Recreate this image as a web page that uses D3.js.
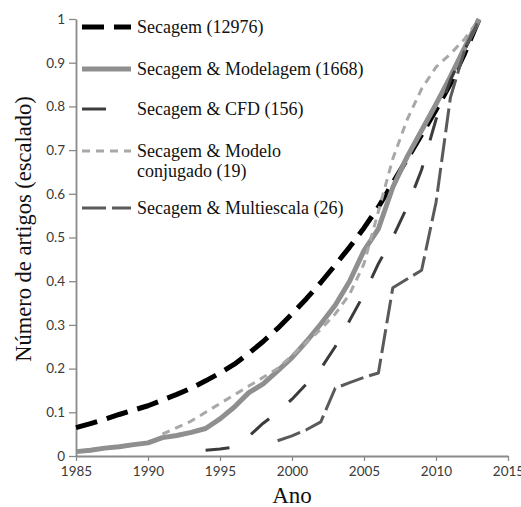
<!DOCTYPE html>
<html>
<head>
<meta charset="utf-8">
<script src="https://cdn.jsdelivr.net/npm/d3@7"></script>
<style>
  html, body { margin: 0; padding: 0; background: #fff; }
  svg { display: block; }
  .serif { font-family: "Liberation Serif", "DejaVu Serif", serif; }
  .sansnum { font-family: Lato, "Open Sans", sans-serif; }
</style>
</head>
<body>
<svg id="chart" width="521" height="507"></svg>
<script>
// ---- data ----
const secagemYears = d3.range(1985, 2014);
const secagemValues = [0.065, 0.074, 0.084, 0.095, 0.105, 0.115, 0.128, 0.141, 0.155, 0.172, 0.19, 0.21, 0.235, 0.262, 0.292, 0.325, 0.36, 0.397, 0.437, 0.478, 0.522, 0.57, 0.625, 0.68, 0.735, 0.792, 0.852, 0.922, 1.0];

const modelagemYears = d3.range(1985, 2014);
const modelagemValues = [0.01, 0.013, 0.018, 0.021, 0.026, 0.03, 0.042, 0.047, 0.054, 0.063, 0.085, 0.112, 0.145, 0.165, 0.195, 0.225, 0.262, 0.302, 0.345, 0.4, 0.47, 0.52, 0.615, 0.685, 0.745, 0.805, 0.868, 0.935, 1.0];

const cfdYears = d3.range(1994, 2014);
const cfdValues = [0.013, 0.016, 0.02, 0.045, 0.075, 0.1, 0.13, 0.165, 0.2, 0.25, 0.31, 0.37, 0.44, 0.5, 0.57, 0.655, 0.77, 0.86, 0.93, 1.0];

const conjugadoYears = d3.range(1991, 2014);
const conjugadoValues = [0.05, 0.065, 0.08, 0.1, 0.12, 0.14, 0.16, 0.18, 0.2, 0.23, 0.26, 0.29, 0.325, 0.37, 0.44, 0.56, 0.68, 0.77, 0.84, 0.89, 0.92, 0.955, 1.0];

const multiescalaYears = d3.range(1999, 2014);
const multiescalaValues = [0.035, 0.046, 0.06, 0.078, 0.155, 0.168, 0.18, 0.19, 0.385, 0.405, 0.425, 0.58, 0.82, 0.93, 1.0];

const seriesNames = ["Secagem (12976)", "Secagem & Modelagem (1668)", "Secagem & CFD (156)", "Secagem & Modelo\nconjugado (19)", "Secagem & Multiescala (26)"];

const xTicks = [1985, 1990, 1995, 2000, 2005, 2010, 2015];
const yTicks = [0, 0.1, 0.2, 0.3, 0.4, 0.5, 0.6, 0.7, 0.8, 0.9, 1];
const xTitle = "Ano";
const yTitle = "Número de artigos (escalado)";

// ---- styles ----
const styles = [
  { color: "#000000", width: 5, dash: "22,10" },
  { color: "#8f8f8f", width: 5, dash: null },
  { color: "#3c3c3c", width: 3, dash: "24,26" },
  { color: "#a8a8a8", width: 3, dash: "8,6" },
  { color: "#5a5a5a", width: 3, dash: "24,6" }
];

const series = [
  { years: secagemYears, values: secagemValues },
  { years: modelagemYears, values: modelagemValues },
  { years: cfdYears, values: cfdValues },
  { years: conjugadoYears, values: conjugadoValues },
  { years: multiescalaYears, values: multiescalaValues }
].map((s, i) => ({ name: seriesNames[i], style: styles[i], points: s.years.map((yr, j) => ({ x: yr, y: s.values[j] })) }));

const svg = d3.select("#chart");
const mLeft = 76, mRight = 508, mTop = 19, mBottom = 456;

const x = d3.scaleLinear().domain([1985, 2015]).range([mLeft, mRight]);
const y = d3.scaleLinear().domain([0, 1]).range([mBottom, mTop]);

// axes
const xAxis = svg.append("g").attr("transform", `translate(0,${mBottom})`)
  .call(d3.axisBottom(x).tickValues(xTicks).tickFormat(d3.format("d")).tickSize(5).tickSizeOuter(0));
const yAxis = svg.append("g").attr("transform", `translate(${mLeft},0)`)
  .call(d3.axisLeft(y).tickValues(yTicks).tickFormat(d => d === 0 ? "0" : d === 1 ? "1" : d.toFixed(1)).tickSize(7).tickSizeOuter(0));

[xAxis, yAxis].forEach(g => {
  g.attr("font-family", null).attr("font-size", null);
  g.select(".domain").attr("stroke", "#8a8a8a").attr("stroke-width", 1.8);
  g.selectAll(".tick line").attr("stroke", "#8a8a8a").attr("stroke-width", 1.3);
  g.selectAll(".tick text").attr("class", "sansnum").attr("fill", "#3a3a3a").style("font-size", "13.5px");
});
xAxis.selectAll(".tick text").attr("dy", "1.05em").attr("y", 6);
yAxis.selectAll(".tick text").attr("x", -11).attr("dy", "0.32em");

// lines
const line = d3.line().x(d => x(d.x)).y(d => y(d.y));
svg.append("g").selectAll("path").data(series).join("path")
  .attr("d", d => line(d.points))
  .attr("fill", "none")
  .attr("stroke", d => d.style.color)
  .attr("stroke-width", d => d.style.width)
  .attr("stroke-dasharray", d => d.style.dash)
  .attr("stroke-linejoin", "round");

// legend
const legendRows = [27, 69, 109, 151, 208];
const leg = svg.append("g");
series.forEach((s, i) => {
  const ly = legendRows[i];
  leg.append("line").attr("x1", 82).attr("x2", 131).attr("y1", ly).attr("y2", ly)
    .attr("stroke", s.style.color).attr("stroke-width", s.style.width)
    .attr("stroke-dasharray", s.style.dash);
  const lines = s.name.split("\n");
  const t = leg.append("text").attr("class", "serif").attr("x", 137).attr("y", ly + 6)
    .style("font-size", "18px").attr("fill", "#111");
  lines.forEach((ln, k) => {
    t.append("tspan").attr("x", 137).attr("dy", k === 0 ? 0 : 20).text(ln);
  });
});

// titles
svg.append("text").attr("class", "serif").attr("x", x(2000)).attr("y", 503).attr("text-anchor", "middle")
  .style("font-size", "23px").attr("fill", "#111").text(xTitle);
svg.append("text").attr("class", "serif").attr("transform", `translate(31,229) rotate(-90)`)
  .attr("text-anchor", "middle")
  .style("font-size", "22.5px").attr("fill", "#111").text(yTitle);
</script>
</body>
</html>
